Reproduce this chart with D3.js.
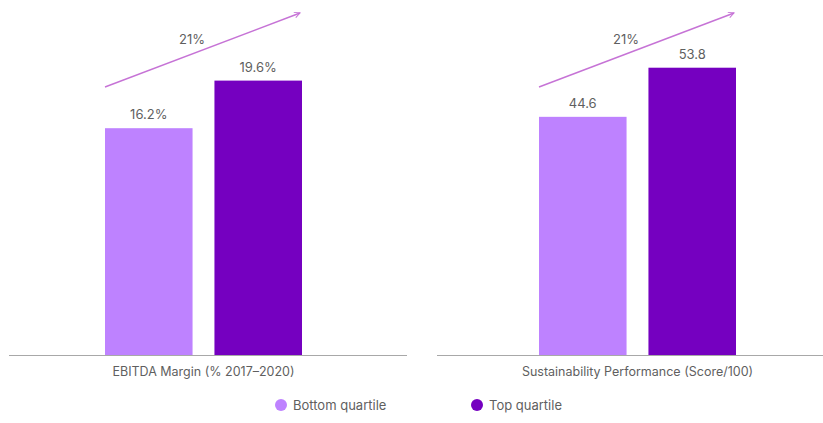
<!DOCTYPE html>
<html>
<head>
<meta charset="utf-8">
<script src="https://cdn.jsdelivr.net/npm/d3@7"></script>
<style>
  html, body { margin: 0; padding: 0; background: #fff; }
  svg { display: block; font-family: Inter, 'Open Sans', sans-serif; }
</style>
</head>
<body>
<div id="chart"></div>
<script>
// data
const quartiles = ['Bottom quartile', 'Top quartile']
const panelTitles = ['EBITDA Margin (% 2017–2020)', 'Sustainability Performance (Score/100)']
const ebitdaValues = [16.2, 19.6]
const sustainValues = [44.6, 53.8]
const valueLabels = [['16.2%', '19.6%'], ['44.6', '53.8']]
const growthLabels = ['21%', '21%']

const colors = ['#be82ff', '#7500c0']
const arrowColor = '#c673d6'
const textColor = '#5f5f5f'

const width = 823
const height = 423
const baseline = 355

const svg = d3.create('svg').attr('width', width).attr('height', height)

svg.append('defs')
  .append('marker')
  .attr('id', 'arrowhead')
  .attr('viewBox', '0 0 10 10')
  .attr('refX', 9)
  .attr('refY', 5)
  .attr('markerWidth', 7)
  .attr('markerHeight', 7)
  .attr('markerUnits', 'userSpaceOnUse')
  .attr('orient', 'auto')
  .append('path')
  .attr('d', 'M1,1 L9,5 L1,9')
  .attr('fill', 'none')
  .attr('stroke', arrowColor)
  .attr('stroke-width', 1.4)

// each panel: axis line extent, bar range, y scale per unit
const panels = [
  { values: ebitdaValues, axis: [9, 407], bars: [105, 302], domainMax: baseline / 14 },
  { values: sustainValues, axis: [437, 823], bars: [539, 736], domainMax: baseline / 5.34 },
]

panels.forEach((p, k) => {
  const g = svg.append('g').attr('class', 'panel')

  const x = d3.scaleBand().domain(quartiles).range(p.bars).paddingInner(0.2).paddingOuter(0)
  const y = d3.scaleLinear().domain([0, p.domainMax]).range([baseline, 0])

  g.selectAll('rect')
    .data(p.values)
    .join('rect')
    .attr('x', (d, i) => x(quartiles[i]))
    .attr('y', d => y(d))
    .attr('width', x.bandwidth())
    .attr('height', d => baseline - y(d))
    .attr('fill', (d, i) => colors[i])

  g.selectAll('text.value')
    .data(p.values)
    .join('text')
    .attr('class', 'value')
    .attr('x', (d, i) => x(quartiles[i]) + x.bandwidth() / 2)
    .attr('y', d => y(d) - 9)
    .attr('text-anchor', 'middle')
    .attr('font-size', 13)
    .attr('fill', textColor)
    .text((d, i) => valueLabels[k][i])

  // baseline
  g.append('line')
    .attr('x1', p.axis[0])
    .attr('x2', p.axis[1])
    .attr('y1', baseline + 0.5)
    .attr('y2', baseline + 0.5)
    .attr('stroke', '#a8a8a8')
    .attr('stroke-width', 1)

  g.append('text')
    .attr('x', (p.bars[0] + p.bars[1]) / 2)
    .attr('y', 376)
    .attr('text-anchor', 'middle')
    .attr('font-size', 12.5)
    .attr('fill', textColor)
    .text(panelTitles[k])

  // growth arrow
  const x0 = x(quartiles[0])
  const x1 = x(quartiles[1]) + x.bandwidth() - 2
  g.append('line')
    .attr('x1', x0)
    .attr('y1', 87)
    .attr('x2', x1)
    .attr('y2', 13)
    .attr('stroke', arrowColor)
    .attr('stroke-width', 1.4)
    .attr('marker-end', 'url(#arrowhead)')

  g.append('text')
    .attr('x', x0 + 87)
    .attr('y', 44)
    .attr('text-anchor', 'middle')
    .attr('font-size', 13)
    .attr('fill', textColor)
    .text(growthLabels[k])
})

// legend
const legendX = [281, 477]
const legend = svg.append('g').attr('class', 'legend')
  .selectAll('g')
  .data(quartiles)
  .join('g')
  .attr('transform', (d, i) => `translate(${legendX[i]}, 405)`)

legend.append('circle')
  .attr('r', 6)
  .attr('fill', (d, i) => colors[i])

legend.append('text')
  .attr('x', 12)
  .attr('y', 4.5)
  .attr('font-size', 13)
  .attr('fill', textColor)
  .text(d => d)

document.getElementById('chart').appendChild(svg.node())
</script>
</body>
</html>
